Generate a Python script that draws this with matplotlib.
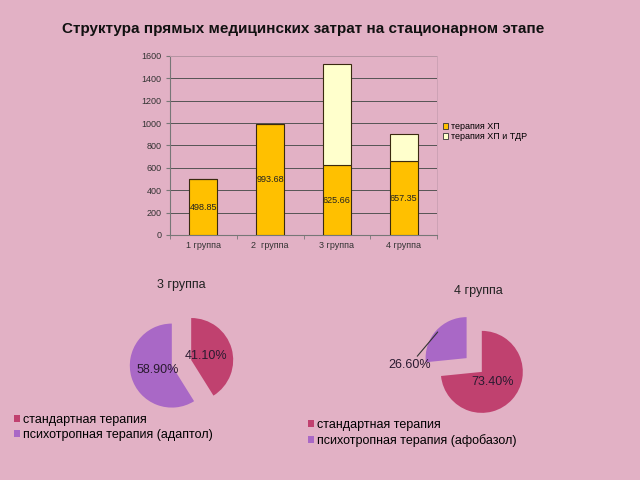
import matplotlib
matplotlib.use("Agg")
import matplotlib.pyplot as plt
import numpy as np
from matplotlib.patches import Patch

plt.rcParams['font.family'] = ['Liberation Sans', 'DejaVu Sans']

title = "Структура прямых медицинских затрат на стационарном этапе"
groups = ["1 группа", "2  группа", "3 группа", "4 группа"]
therapy_xp = [498.85, 993.68, 625.66, 657.35]
therapy_xp_tdr = [0, 0, 900, 243]
bar_series = ["терапия ХП", "терапия ХП и ТДР"]
yticks = [0, 200, 400, 600, 800, 1000, 1200, 1400, 1600]

pie_labels3 = ["стандартная терапия", "психотропная терапия (адаптол)"]
pie_values3 = [41.10, 58.90]
pie_labels4 = ["стандартная терапия", "психотропная терапия (афобазол)"]
pie_values4 = [73.40, 26.60]
pie_titles = ["3 группа", "4 группа"]

BG = "#E2B1C5"
YEL = "#FFC000"
LYEL = "#FFFFCC"
RED = "#C0416F"
PUR = "#A968C6"

W, H = 640, 480
fig = plt.figure(figsize=(6.4, 4.8), dpi=100, facecolor=BG)

def px_axes(l, t, r, b):
    return fig.add_axes([l / W, 1 - b / H, (r - l) / W, (b - t) / H])

fig.text(303 / W, 1 - 29 / H, title, ha='center', va='center',
         fontsize=11, fontweight='bold', color='#111111')

# ---- bar chart
ax = px_axes(170, 56, 437, 235)
ax.set_facecolor(BG)
x = np.arange(len(groups))
bw = 0.42
ax.bar(x, therapy_xp, bw, color=YEL, edgecolor='#3a2a10', linewidth=0.8,
       label=bar_series[0], zorder=3)
ax.bar(x, therapy_xp_tdr, bw, bottom=therapy_xp, color=LYEL,
       edgecolor='#3a2a10', linewidth=0.8, label=bar_series[1], zorder=3)
for xi, v in zip(x, therapy_xp):
    ax.text(xi, v / 2, f"{v:.2f}", ha='center', va='center', fontsize=6.5,
            color='#222222', zorder=4)
ax.set_xlim(-0.5, len(groups) - 0.5)
ax.set_ylim(0, 1600)
ax.set_yticks(yticks)
ax.set_yticklabels([str(t) for t in yticks], fontsize=6.5, color='#333333')
ax.set_xticks(x)
ax.set_xticklabels(groups, fontsize=6.5, color='#333333')
ax.set_xticks(np.arange(-0.5, len(groups)), minor=True)
ax.tick_params(axis='x', which='major', length=0, pad=4)
ax.tick_params(axis='x', which='minor', length=3, color='#777777')
ax.tick_params(axis='y', length=3, color='#777777', pad=3)
ax.yaxis.grid(True, color='#555555', linewidth=0.7, zorder=0)
for s in ['top', 'right']:
    ax.spines[s].set_color('#c9a0b2')
    ax.spines[s].set_linewidth(0.6)
for s in ['left', 'bottom']:
    ax.spines[s].set_color('#777777')
    ax.spines[s].set_linewidth(0.8)

fig.legend(handles=[Patch(facecolor=YEL, edgecolor='#333333', linewidth=0.6),
                    Patch(facecolor=LYEL, edgecolor='#333333', linewidth=0.6)],
           labels=bar_series, loc='upper left',
           bbox_to_anchor=(443 / W, 1 - 122 / H), frameon=False, fontsize=6.5,
           handlelength=0.6, handleheight=0.6, handletextpad=0.3,
           labelspacing=0.15, borderpad=0, borderaxespad=0)

# ---- pies
LIM = 1.6

def pie_axes(cx, cy, r):
    half = r * LIM
    return px_axes(cx - half, cy - half, cx + half, cy + half)

def fix_limits(a):
    a.set_xlim(-LIM, LIM)
    a.set_ylim(-LIM, LIM)
    a.set_aspect('equal')
    a.axis('off')

ax3 = pie_axes(181.5, 362.8, 42)
w3, t3, a3 = ax3.pie(pie_values3, colors=[RED, PUR], startangle=90,
                     counterclock=False, explode=[0.24, 0.24],
                     autopct=lambda p: f"{p:.2f}%", pctdistance=0.36,
                     radius=1, wedgeprops=dict(linewidth=0),
                     textprops=dict(fontsize=9, color='#2a1a30'))
fix_limits(ax3)
ax3.text(0, 1.85, pie_titles[0], ha='center', va='center', fontsize=9,
         color='#222222', clip_on=False)
fig.legend(handles=[Patch(facecolor=RED), Patch(facecolor=PUR)],
           labels=pie_labels3, loc='upper left',
           bbox_to_anchor=(14 / W, 1 - 414 / H), frameon=False, fontsize=9,
           handlelength=0.5, handleheight=0.5, handletextpad=0.2,
           labelspacing=0.25, borderpad=0, borderaxespad=0)

ax4 = pie_axes(474.2, 365, 41)
w4, t4 = ax4.pie(pie_values4, colors=[RED, PUR], startangle=90,
                 counterclock=False, explode=[0.25, 0.25], radius=1,
                 wedgeprops=dict(linewidth=0))
fix_limits(ax4)
ang0 = np.deg2rad((w4[0].theta1 + w4[0].theta2) / 2)
ax4.text(0.25 * np.cos(ang0) + 0.37 * np.cos(ang0),
         0.25 * np.sin(ang0) + 0.37 * np.sin(ang0),
         f"{pie_values4[0]:.2f}%", ha='center', va='center', fontsize=9,
         color='#2a1a30')
ang1 = np.deg2rad((w4[1].theta1 + w4[1].theta2) / 2)
tip = (0.25 * np.cos(ang1) + 0.95 * np.cos(ang1),
       0.25 * np.sin(ang1) + 0.95 * np.sin(ang1))
ax4.annotate(f"{pie_values4[1]:.2f}%", xy=tip, xytext=(-1.57, 0.0),
             ha='center', va='center', fontsize=9, color='#2a1a30',
             arrowprops=dict(arrowstyle='-', color='#333333', lw=0.8,
                             shrinkA=0, shrinkB=0),
             annotation_clip=False)
ax4.text(0.1, 1.8, pie_titles[1], ha='center', va='center', fontsize=9,
         color='#222222', clip_on=False)
fig.legend(handles=[Patch(facecolor=RED), Patch(facecolor=PUR)],
           labels=pie_labels4, loc='upper left',
           bbox_to_anchor=(308 / W, 1 - 419 / H), frameon=False, fontsize=9,
           handlelength=0.5, handleheight=0.5, handletextpad=0.2,
           labelspacing=0.25, borderpad=0, borderaxespad=0)

fig.savefig("out.png", dpi=100, facecolor=BG)
